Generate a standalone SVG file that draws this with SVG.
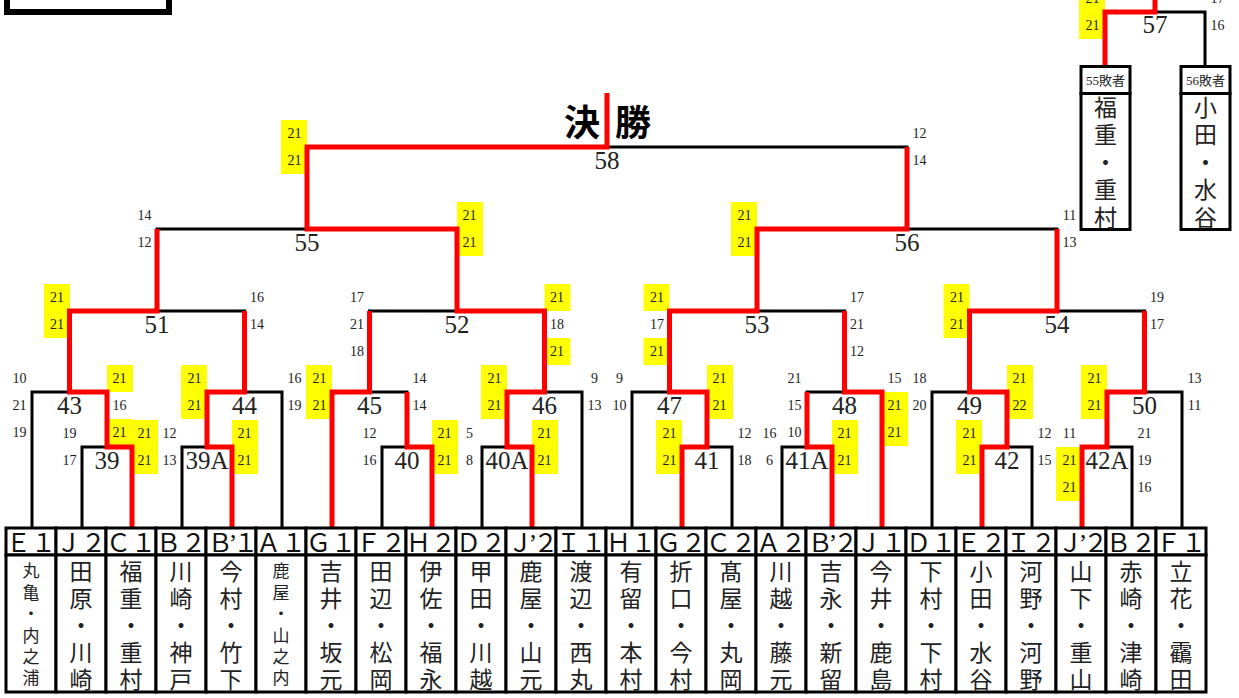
<svg xmlns="http://www.w3.org/2000/svg" width="1239" height="698" viewBox="0 0 1239 698">
<style>
.bk{fill:none;stroke:#000;stroke-width:3}
.rd{fill:none;stroke:#f00;stroke-width:5;stroke-linejoin:miter}
.cell{fill:#fff;stroke:#000;stroke-width:3}
.hd{font-family:"Noto Sans CJK JP",sans-serif;font-size:25px;fill:#111;text-anchor:middle}
.hq{letter-spacing:-4px}
.q{font-family:"Liberation Serif",serif}
.nm{font-family:"Noto Sans CJK JP",sans-serif;font-size:23px;fill:#222;writing-mode:vertical-rl;text-anchor:start;dominant-baseline:central;letter-spacing:4px}
.sm{font-size:17px;letter-spacing:4.4px}
.lb{letter-spacing:4.5px}
.s{font-family:"Liberation Serif",serif;font-size:14px;fill:#222;text-anchor:middle;dominant-baseline:central}
.y{fill:#ff0}
.mn{font-family:"Liberation Serif",serif;font-size:25px;fill:#222;text-anchor:middle}
.ttl{font-family:"Noto Sans CJK JP",sans-serif;font-size:36px;font-weight:700;fill:#000;text-anchor:middle;dominant-baseline:central}
.lh{font-family:"Liberation Serif","Noto Sans CJK JP",serif;font-size:13px;fill:#222;text-anchor:middle}
</style>
<rect width="1239" height="698" fill="#fff"/>
<g id="frame"><rect x="7" y="-10" width="162" height="22" fill="#fff" stroke="#000" stroke-width="6"/></g>

<g id="scores">
<g id="m39"><rect class="y" x="132" y="420" width="26" height="54"/><text class="mn" x="107" y="469">39</text><text class="s" x="69.5" y="433.5">19</text><text class="s" x="69.5" y="460.5">17</text><text class="s" x="144.5" y="433.5">21</text><text class="s" x="144.5" y="460.5">21</text></g>
<g id="m39A"><rect class="y" x="232" y="420" width="26" height="54"/><text class="mn" x="207" y="469">39A</text><text class="s" x="169.5" y="433.5">12</text><text class="s" x="169.5" y="460.5">13</text><text class="s" x="244.5" y="433.5">21</text><text class="s" x="244.5" y="460.5">21</text></g>
<g id="m40"><rect class="y" x="432" y="420" width="26" height="54"/><text class="mn" x="407" y="469">40</text><text class="s" x="369.5" y="433.5">12</text><text class="s" x="369.5" y="460.5">16</text><text class="s" x="444.5" y="433.5">21</text><text class="s" x="444.5" y="460.5">21</text></g>
<g id="m40A"><rect class="y" x="532" y="420" width="26" height="54"/><text class="mn" x="507" y="469">40A</text><text class="s" x="469.5" y="433.5">5</text><text class="s" x="469.5" y="460.5">8</text><text class="s" x="544.5" y="433.5">21</text><text class="s" x="544.5" y="460.5">21</text></g>
<g id="m41"><rect class="y" x="656" y="420" width="26" height="54"/><text class="mn" x="707" y="469">41</text><text class="s" x="669.5" y="433.5">21</text><text class="s" x="669.5" y="460.5">21</text><text class="s" x="744.5" y="433.5">12</text><text class="s" x="744.5" y="460.5">18</text></g>
<g id="m41A"><rect class="y" x="832" y="420" width="26" height="54"/><text class="mn" x="807" y="469">41A</text><text class="s" x="769.5" y="433.5">16</text><text class="s" x="769.5" y="460.5">6</text><text class="s" x="844.5" y="433.5">21</text><text class="s" x="844.5" y="460.5">21</text></g>
<g id="m42"><rect class="y" x="956" y="420" width="26" height="54"/><text class="mn" x="1007" y="469">42</text><text class="s" x="969.5" y="433.5">21</text><text class="s" x="969.5" y="460.5">21</text><text class="s" x="1044.5" y="433.5">12</text><text class="s" x="1044.5" y="460.5">15</text></g>
<g id="m42A"><rect class="y" x="1056" y="447" width="26" height="54"/><text class="mn" x="1107" y="469">42A</text><text class="s" x="1069.5" y="433.5">11</text><text class="s" x="1069.5" y="460.5">21</text><text class="s" x="1069.5" y="487.5">21</text><text class="s" x="1144.5" y="433.5">21</text><text class="s" x="1144.5" y="460.5">19</text><text class="s" x="1144.5" y="487.5">16</text></g>

<g id="m43"><rect class="y" x="107" y="365" width="26" height="27"/><rect class="y" x="107" y="419" width="26" height="27"/><text class="mn" x="69.5" y="414">43</text><text class="s" x="19.5" y="378.5">10</text><text class="s" x="19.5" y="405.5">21</text><text class="s" x="19.5" y="432.5">19</text><text class="s" x="119.5" y="378.5">21</text><text class="s" x="119.5" y="405.5">16</text><text class="s" x="119.5" y="432.5">21</text></g>
<g id="m44"><rect class="y" x="181" y="365" width="26" height="54"/><text class="mn" x="244.5" y="414">44</text><text class="s" x="194.5" y="378.5">21</text><text class="s" x="194.5" y="405.5">21</text><text class="s" x="294.5" y="378.5">16</text><text class="s" x="294.5" y="405.5">19</text></g>
<g id="m45"><rect class="y" x="306" y="365" width="26" height="54"/><text class="mn" x="369.5" y="414">45</text><text class="s" x="319.5" y="378.5">21</text><text class="s" x="319.5" y="405.5">21</text><text class="s" x="419.5" y="378.5">14</text><text class="s" x="419.5" y="405.5">14</text></g>
<g id="m46"><rect class="y" x="481" y="365" width="26" height="54"/><text class="mn" x="544.5" y="414">46</text><text class="s" x="494.5" y="378.5">21</text><text class="s" x="494.5" y="405.5">21</text><text class="s" x="594.5" y="378.5">9</text><text class="s" x="594.5" y="405.5">13</text></g>
<g id="m47"><rect class="y" x="707" y="365" width="26" height="54"/><text class="mn" x="669.5" y="414">47</text><text class="s" x="619.5" y="378.5">9</text><text class="s" x="619.5" y="405.5">10</text><text class="s" x="719.5" y="378.5">21</text><text class="s" x="719.5" y="405.5">21</text></g>
<g id="m48"><rect class="y" x="882" y="392" width="26" height="54"/><text class="mn" x="844.5" y="414">48</text><text class="s" x="794.5" y="378.5">21</text><text class="s" x="794.5" y="405.5">15</text><text class="s" x="794.5" y="432.5">10</text><text class="s" x="894.5" y="378.5">15</text><text class="s" x="894.5" y="405.5">21</text><text class="s" x="894.5" y="432.5">21</text></g>
<g id="m49"><rect class="y" x="1007" y="365" width="26" height="54"/><text class="mn" x="969.5" y="414">49</text><text class="s" x="919.5" y="378.5">18</text><text class="s" x="919.5" y="405.5">20</text><text class="s" x="1019.5" y="378.5">21</text><text class="s" x="1019.5" y="405.5">22</text></g>
<g id="m50"><rect class="y" x="1081" y="365" width="26" height="54"/><text class="mn" x="1144.5" y="414">50</text><text class="s" x="1094.5" y="378.5">21</text><text class="s" x="1094.5" y="405.5">21</text><text class="s" x="1194.5" y="378.5">13</text><text class="s" x="1194.5" y="405.5">11</text></g>

<g id="m51"><rect class="y" x="44" y="284" width="26" height="54"/><text class="mn" x="157" y="333">51</text><text class="s" x="57" y="297.5">21</text><text class="s" x="57" y="324.5">21</text><text class="s" x="257" y="297.5">16</text><text class="s" x="257" y="324.5">14</text></g>
<g id="m52"><rect class="y" x="544.5" y="284" width="26" height="27"/><rect class="y" x="544.5" y="338" width="26" height="27"/><text class="mn" x="457" y="333">52</text><text class="s" x="357" y="297.5">17</text><text class="s" x="357" y="324.5">21</text><text class="s" x="357" y="351.5">18</text><text class="s" x="557" y="297.5">21</text><text class="s" x="557" y="324.5">18</text><text class="s" x="557" y="351.5">21</text></g>
<g id="m53"><rect class="y" x="643.5" y="284" width="26" height="27"/><rect class="y" x="643.5" y="338" width="26" height="27"/><text class="mn" x="757" y="333">53</text><text class="s" x="657" y="297.5">21</text><text class="s" x="657" y="324.5">17</text><text class="s" x="657" y="351.5">21</text><text class="s" x="857" y="297.5">17</text><text class="s" x="857" y="324.5">21</text><text class="s" x="857" y="351.5">12</text></g>
<g id="m54"><rect class="y" x="943.5" y="284" width="26" height="54"/><text class="mn" x="1057" y="333">54</text><text class="s" x="957" y="297.5">21</text><text class="s" x="957" y="324.5">21</text><text class="s" x="1157" y="297.5">19</text><text class="s" x="1157" y="324.5">17</text></g>

<g id="m55"><rect class="y" x="457" y="202" width="26" height="54"/><text class="mn" x="307" y="251">55</text><text class="s" x="144.5" y="215.5">14</text><text class="s" x="144.5" y="242.5">12</text><text class="s" x="469.5" y="215.5">21</text><text class="s" x="469.5" y="242.5">21</text></g>
<g id="m56"><rect class="y" x="731" y="202" width="26" height="54"/><text class="mn" x="907" y="251">56</text><text class="s" x="744.5" y="215.5">21</text><text class="s" x="744.5" y="242.5">21</text><text class="s" x="1069.5" y="215.5">11</text><text class="s" x="1069.5" y="242.5">13</text></g>
<g id="m58"><rect class="y" x="281" y="120" width="26" height="54"/><text class="ttl" x="582 633" y="120">決勝</text><text class="mn" x="607" y="169">58</text><text class="s" x="294.5" y="133.5">21</text><text class="s" x="294.5" y="160.5">21</text><text class="s" x="919.5" y="133.5">12</text><text class="s" x="919.5" y="160.5">14</text></g>
<g id="m57"><rect class="y" x="1079" y="-15" width="26" height="54"/><text class="mn" x="1155" y="33">57</text><text class="s" x="1092.5" y="-1.5">21</text><text class="s" x="1092.5" y="25.5">21</text><text class="s" x="1217.5" y="-1.5">17</text><text class="s" x="1217.5" y="25.5">16</text></g>
</g>

<g id="connectors">
<path class="bk" d="M82 528V447H132V528M182 528V447H232V528M382 528V447H432V528M482 528V447H532V528M682 528V447H732V528M782 528V447H832V528M982 528V447H1032V528M1082 528V447H1132V528"/>
<path class="bk" d="M32 528V392H107V447M207 447V392H282V528M332 528V392H407V447M507 447V392H582V528M632 528V392H707V447M807 447V392H882V528M932 528V392H1007V447M1107 447V392H1182V528"/>
<path class="bk" d="M69.5 392V311H244.5V392M369.5 392V311H544.5V392M669.5 392V311H844.5V392M969.5 392V311H1144.5V392"/>
<path class="bk" d="M157 311V229H457V311M757 311V229H1057V311M307 229V147H907V229M1105 66V12H1205V66"/>
<path class="rd" d="M132 528V447H107V392H69.5V311H157V229"/>
<path class="rd" d="M232 528V447H207V392H244.5V311"/>
<path class="rd" d="M332 528V392H369.5V311"/>
<path class="rd" d="M432 528V447H407V392"/>
<path class="rd" d="M532 528V447H507V392H544.5V311H457V229H307V147H607V93"/>
<path class="rd" d="M682 528V447H707V392H669.5V311H757V229H907V147"/>
<path class="rd" d="M832 528V447H807V392"/>
<path class="rd" d="M882 528V392H844.5V311"/>
<path class="rd" d="M982 528V447H1007V392H969.5V311H1057V229"/>
<path class="rd" d="M1082 528V447H1107V392H1144.5V311"/>
<path class="rd" d="M1105 66V12H1155V0"/>
</g>

<g id="teams">
<g id="t01"><rect class="cell" x="6" y="528" width="50" height="27"/><rect class="cell" x="6" y="555" width="50" height="137"/><text class="hd" x="31" y="551.5">Ｅ１</text><text class="nm sm" x="31" y="562.5">丸亀・内之浦</text></g>
<g id="t02"><rect class="cell" x="56" y="528" width="50" height="27"/><rect class="cell" x="56" y="555" width="50" height="137"/><text class="hd" x="81" y="551.5">Ｊ２</text><text class="nm" x="81" y="559.5">田原・川崎</text></g>
<g id="t03"><rect class="cell" x="106" y="528" width="50" height="27"/><rect class="cell" x="106" y="555" width="50" height="137"/><text class="hd" x="131" y="551.5">Ｃ１</text><text class="nm" x="131" y="559.5">福重・重村</text></g>
<g id="t04"><rect class="cell" x="156" y="528" width="50" height="27"/><rect class="cell" x="156" y="555" width="50" height="137"/><text class="hd" x="181" y="551.5">Ｂ２</text><text class="nm" x="181" y="559.5">川崎・神戸</text></g>
<g id="t05"><rect class="cell" x="206" y="528" width="50" height="27"/><rect class="cell" x="206" y="555" width="50" height="137"/><text class="hd hq" x="231" y="551.5">Ｂ<tspan class="q">’</tspan>１</text><text class="nm" x="231" y="559.5">今村・竹下</text></g>
<g id="t06"><rect class="cell" x="256" y="528" width="50" height="27"/><rect class="cell" x="256" y="555" width="50" height="137"/><text class="hd" x="281" y="551.5">Ａ１</text><text class="nm sm" x="281" y="562.5">鹿屋・山之内</text></g>
<g id="t07"><rect class="cell" x="306" y="528" width="50" height="27"/><rect class="cell" x="306" y="555" width="50" height="137"/><text class="hd" x="331" y="551.5">Ｇ１</text><text class="nm" x="331" y="559.5">吉井・坂元</text></g>
<g id="t08"><rect class="cell" x="356" y="528" width="50" height="27"/><rect class="cell" x="356" y="555" width="50" height="137"/><text class="hd" x="381" y="551.5">Ｆ２</text><text class="nm" x="381" y="559.5">田辺・松岡</text></g>
<g id="t09"><rect class="cell" x="406" y="528" width="50" height="27"/><rect class="cell" x="406" y="555" width="50" height="137"/><text class="hd" x="431" y="551.5">Ｈ２</text><text class="nm" x="431" y="559.5">伊佐・福永</text></g>
<g id="t10"><rect class="cell" x="456" y="528" width="50" height="27"/><rect class="cell" x="456" y="555" width="50" height="137"/><text class="hd" x="481" y="551.5">Ｄ２</text><text class="nm" x="481" y="559.5">甲田・川越</text></g>
<g id="t11"><rect class="cell" x="506" y="528" width="50" height="27"/><rect class="cell" x="506" y="555" width="50" height="137"/><text class="hd hq" x="531" y="551.5">Ｊ<tspan class="q">’</tspan>２</text><text class="nm" x="531" y="559.5">鹿屋・山元</text></g>
<g id="t12"><rect class="cell" x="556" y="528" width="50" height="27"/><rect class="cell" x="556" y="555" width="50" height="137"/><text class="hd" x="581" y="551.5">Ｉ１</text><text class="nm" x="581" y="559.5">渡辺・西丸</text></g>
<g id="t13"><rect class="cell" x="606" y="528" width="50" height="27"/><rect class="cell" x="606" y="555" width="50" height="137"/><text class="hd" x="631" y="551.5">Ｈ１</text><text class="nm" x="631" y="559.5">有留・本村</text></g>
<g id="t14"><rect class="cell" x="656" y="528" width="50" height="27"/><rect class="cell" x="656" y="555" width="50" height="137"/><text class="hd" x="681" y="551.5">Ｇ２</text><text class="nm" x="681" y="559.5">折口・今村</text></g>
<g id="t15"><rect class="cell" x="706" y="528" width="50" height="27"/><rect class="cell" x="706" y="555" width="50" height="137"/><text class="hd" x="731" y="551.5">Ｃ２</text><text class="nm" x="731" y="559.5">髙屋・丸岡</text></g>
<g id="t16"><rect class="cell" x="756" y="528" width="50" height="27"/><rect class="cell" x="756" y="555" width="50" height="137"/><text class="hd" x="781" y="551.5">Ａ２</text><text class="nm" x="781" y="559.5">川越・藤元</text></g>
<g id="t17"><rect class="cell" x="806" y="528" width="50" height="27"/><rect class="cell" x="806" y="555" width="50" height="137"/><text class="hd hq" x="831" y="551.5">Ｂ<tspan class="q">’</tspan>２</text><text class="nm" x="831" y="559.5">吉永・新留</text></g>
<g id="t18"><rect class="cell" x="856" y="528" width="50" height="27"/><rect class="cell" x="856" y="555" width="50" height="137"/><text class="hd" x="881" y="551.5">Ｊ１</text><text class="nm" x="881" y="559.5">今井・鹿島</text></g>
<g id="t19"><rect class="cell" x="906" y="528" width="50" height="27"/><rect class="cell" x="906" y="555" width="50" height="137"/><text class="hd" x="931" y="551.5">Ｄ１</text><text class="nm" x="931" y="559.5">下村・下村</text></g>
<g id="t20"><rect class="cell" x="956" y="528" width="50" height="27"/><rect class="cell" x="956" y="555" width="50" height="137"/><text class="hd" x="981" y="551.5">Ｅ２</text><text class="nm" x="981" y="559.5">小田・水谷</text></g>
<g id="t21"><rect class="cell" x="1006" y="528" width="50" height="27"/><rect class="cell" x="1006" y="555" width="50" height="137"/><text class="hd" x="1031" y="551.5">Ｉ２</text><text class="nm" x="1031" y="559.5">河野・河野</text></g>
<g id="t22"><rect class="cell" x="1056" y="528" width="50" height="27"/><rect class="cell" x="1056" y="555" width="50" height="137"/><text class="hd hq" x="1081" y="551.5">Ｊ<tspan class="q">’</tspan>２</text><text class="nm" x="1081" y="559.5">山下・重山</text></g>
<g id="t23"><rect class="cell" x="1106" y="528" width="50" height="27"/><rect class="cell" x="1106" y="555" width="50" height="137"/><text class="hd" x="1131" y="551.5">Ｂ２</text><text class="nm" x="1131" y="559.5">赤崎・津崎</text></g>
<g id="t24"><rect class="cell" x="1156" y="528" width="50" height="27"/><rect class="cell" x="1156" y="555" width="50" height="137"/><text class="hd" x="1181" y="551.5">Ｆ１</text><text class="nm" x="1181" y="559.5">立花・靍田</text></g>
</g>

<g id="loser55"><rect class="cell" x="1081" y="66.5" width="49" height="27"/><rect class="cell" x="1081" y="93.5" width="49" height="136"/><text class="lh" x="1105.5" y="85">55敗者</text><text class="nm lb" x="1105.5" y="95.5">福重・重村</text></g>
<g id="loser56"><rect class="cell" x="1181" y="66.5" width="49" height="27"/><rect class="cell" x="1181" y="93.5" width="49" height="136"/><text class="lh" x="1205.5" y="85">56敗者</text><text class="nm lb" x="1205.5" y="95.5">小田・水谷</text></g>
</svg>
